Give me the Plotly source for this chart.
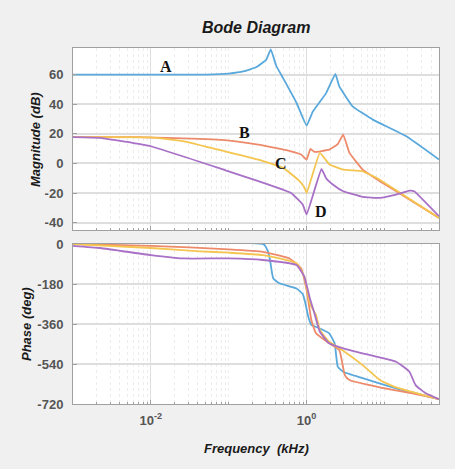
import plotly.graph_objects as go

# ---------------- data (frequency in kHz) ----------------
f_mag_A = [0.001, 0.0501, 0.1, 0.158, 0.224, 0.302, 0.347, 0.407, 0.501, 0.741, 1.0, 1.2, 1.78, 2.34, 2.63, 3.89, 7.08, 19.1, 50.1]
mag_A = [60, 60, 60.7, 62.3, 65, 70, 77, 66, 57.5, 41, 25.5, 35, 47.5, 60.5, 52, 38.6, 29.6, 18.3, 2.6]

f_mag_B = [0.001, 0.00724, 0.0891, 0.240, 0.631, 0.851, 1.0, 1.12, 1.26, 1.95, 2.51, 2.95, 3.55, 5.25, 8.71, 14.1, 50.1]
mag_B = [17.8, 17.8, 15.8, 12.7, 8.2, 6, 2.6, 9.8, 7.8, 9.3, 13, 19.5, 7.1, -4.2, -12, -18.8, -36.8]

f_mag_C = [0.001, 0.01, 0.0257, 0.0891, 0.240, 0.501, 0.776, 0.933, 1.0, 1.48, 1.95, 2.95, 5.25, 8.71, 14.1, 50.1]
mag_C = [17.8, 17.6, 15, 8.2, 2.6, -3, -11, -16, -20, 7.1, -0.5, -4.2, -5.3, -11, -18.2, -36.8]

f_mag_D = [0.001, 0.00224, 0.01, 0.0891, 0.240, 0.631, 0.891, 1.0, 1.55, 1.78, 2.19, 2.95, 5.25, 8.71, 14.1, 20.9, 24.0, 50.1]
mag_D = [17.8, 17.3, 11.6, -4.5, -12, -20, -27.8, -34.6, -3.7, -10, -14.4, -18.8, -22.6, -23.3, -21.1, -18.4, -18.8, -35.7]

f_ph_A = [0.001, 0.282, 0.316, 0.339, 0.372, 0.447, 0.741, 0.891, 0.955, 1.05, 1.15, 1.48, 1.95, 2.29, 2.51, 2.95, 5.25, 14.1, 50.1]
ph_A = [0, -2, -30, -72, -154, -177, -200, -225, -260, -327, -364, -380, -402, -447, -552, -575, -604, -650, -698]

f_ph_B = [0.001, 0.01, 0.1, 0.275, 0.603, 0.851, 1.0, 1.15, 1.32, 1.95, 2.63, 3.09, 3.55, 8.71, 22.9, 50.1]
ph_B = [0, -8, -24, -35, -65, -110, -207, -342, -402, -447, -477, -590, -612, -645, -672, -698]

f_ph_C = [0.001, 0.01, 0.0427, 0.1, 0.275, 0.741, 0.933, 1.10, 1.32, 1.48, 1.95, 2.95, 5.25, 8.71, 14.1, 50.1]
ph_C = [0, -18, -33, -39, -50, -87, -147, -267, -320, -387, -440, -480, -545, -612, -645, -698]

f_ph_D = [0.001, 0.00224, 0.01, 0.0257, 0.1, 0.275, 0.741, 0.933, 1.10, 1.26, 1.48, 1.95, 2.95, 5.25, 14.1, 20.9, 25.1, 33.9, 50.1]
ph_D = [-8, -18, -50, -65, -65, -72, -95, -147, -244, -312, -395, -447, -470, -492, -530, -575, -635, -672, -698]

curve_labels = ["A", "B", "C", "D"]
mag_ticks = [60, 40, 20, 0, -20, -40]
phase_ticks = [0, -180, -360, -540, -720]
freq_ticks = [0.01, 1]
freq_ticktext = ["<b>10<sup>-2</sup></b>", "<b>10<sup>0</sup></b>"]

# ---------------- styling ----------------
W, H = 455, 469
colors = ["#5aa9dc", "#ec8a6a", "#f4c550", "#a870c6"]
grid = "#dedede"
minor_grid = "#ececec"
border = "#a0a0a0"
tick_font = dict(family="Arial, Liberation Sans", size=13, color="#555555")

def px_x(x):
    return x / W

def px_y(y):
    return 1 - y / H

minor_vals = [m * 10 ** e for e in range(-3, 2) for m in range(1, 10) if not (m == 1 and e in (-2, 0))]
minor_vals = [v for v in minor_vals if 0.001 <= v <= 50.2]

fig = go.Figure()

mag_sets = [(f_mag_A, mag_A), (f_mag_B, mag_B), (f_mag_C, mag_C), (f_mag_D, mag_D)]
ph_sets = [(f_ph_A, ph_A), (f_ph_B, ph_B), (f_ph_C, ph_C), (f_ph_D, ph_D)]

for i, (fx, m) in enumerate(mag_sets):
    fig.add_trace(go.Scatter(x=fx, y=m, mode="lines", line=dict(color=colors[i], width=1.8, shape="spline", smoothing=0.3),
                             xaxis="x", yaxis="y", showlegend=False, name=curve_labels[i]))
for i, (fx, p) in enumerate(ph_sets):
    fig.add_trace(go.Scatter(x=fx, y=p, mode="lines", line=dict(color=colors[i], width=1.8, shape="spline", smoothing=0.4),
                             xaxis="x2", yaxis="y2", showlegend=False, name=curve_labels[i]))

xdom = [px_x(73), px_x(439)]
common_x = dict(type="log", range=[-3, 1.7], showline=True, mirror=True, linecolor=border, linewidth=1,
                showgrid=True, gridcolor=grid, gridwidth=1, zeroline=False, automargin=False,
                tickvals=freq_ticks, ticktext=freq_ticktext, ticks="inside", ticklen=4, tickcolor=border,
                minor=dict(tickvals=minor_vals, showgrid=True, gridcolor=minor_grid, griddash="dot", ticks="inside", ticklen=2, tickcolor=border),
                tickfont=tick_font, domain=xdom)
common_y = dict(showline=True, mirror=True, linecolor=border, linewidth=1, automargin=False,
                showgrid=True, gridcolor=grid, gridwidth=1.5, zeroline=False, ticks="inside", ticklen=4, tickcolor=border,
                tickfont=tick_font, ticklabelstandoff=6)

fig.update_layout(
    width=W, height=H,
    margin=dict(l=0, r=0, t=0, b=0, autoexpand=False),
    paper_bgcolor="#f0f0f0", plot_bgcolor="#ffffff",
    xaxis=dict(common_x, anchor="y", showticklabels=False),
    xaxis2=dict(common_x, anchor="y2", showticklabels=True, ticklabelstandoff=4),
    yaxis=dict(common_y, domain=[px_y(230), px_y(48)], range=[-45, 78], tickvals=mag_ticks,
               ticktext=["<b>%d</b>" % v for v in mag_ticks]),
    yaxis2=dict(common_y, domain=[px_y(404), px_y(244)], range=[-720, 0], tickvals=phase_ticks,
                ticktext=["<b>%d</b>" % v for v in phase_ticks]),
)

annots = [
    dict(text="<b><i>Bode Diagram</i></b>", x=px_x(256), y=px_y(27), font=dict(family="Arial, Liberation Sans", size=16, color="#1a1a1a")),
    dict(text="<b><i>Magnitude (dB)</i></b>", x=px_x(35), y=px_y(140), textangle=-90, font=dict(family="Arial, Liberation Sans", size=13, color="#1a1a1a")),
    dict(text="<b><i>Phase (deg)</i></b>", x=px_x(26), y=px_y(324), textangle=-90, font=dict(family="Arial, Liberation Sans", size=13, color="#1a1a1a")),
    dict(text="<b><i>Frequency  (kHz)</i></b>", x=px_x(256), y=px_y(448), font=dict(family="Arial, Liberation Sans", size=13, color="#1a1a1a")),
]
letter_pos = [(166, 67), (244, 133), (281, 163), (321, 211)]
for lab, (lx, ly) in zip(curve_labels, letter_pos):
    annots.append(dict(text="<b>%s</b>" % lab, x=px_x(lx), y=px_y(ly),
                       font=dict(family="Liberation Serif, Times New Roman", size=16, color="#111111")))
for a in annots:
    a.update(xref="paper", yref="paper", showarrow=False, xanchor="center", yanchor="middle")
fig.update_layout(annotations=annots)

fig.write_html("out.html", config={"displayModeBar": False},
               post_script="document.body.style.margin='0';")
